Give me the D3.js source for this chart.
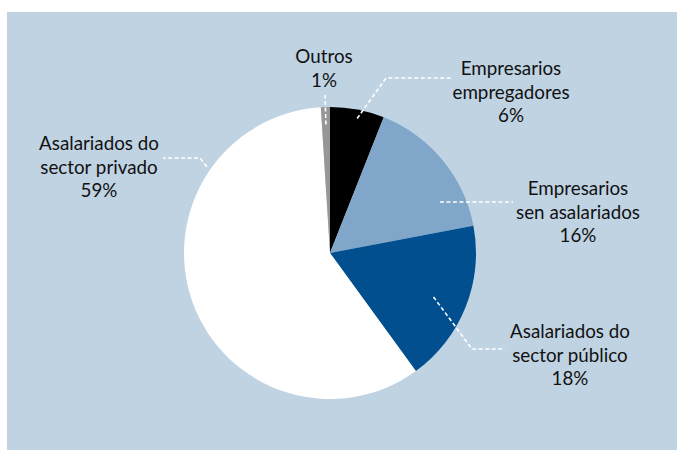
<!DOCTYPE html>
<html>
<head>
<meta charset="utf-8">
<script src="https://cdn.jsdelivr.net/npm/d3@7/dist/d3.min.js"></script>
<style>
  html, body { margin: 0; padding: 0; background: #ffffff; }
  svg { display: block; }
  text { font-family: "Lato", "Noto Sans", sans-serif; fill: #111111; }
</style>
</head>
<body>
<script>
// Employment by professional situation (share of total, %)
const categories = [
  ["Empresarios", "empregadores"],
  ["Empresarios", "sen asalariados"],
  ["Asalariados do", "sector público"],
  ["Asalariados do", "sector privado"],
  ["Outros"]
];
const values = [6, 16, 18, 59, 1];
const colors = ["#000000", "#80a7c9", "#014f8f", "#ffffff", "#979797"];

const W = 677, H = 450;
const cx = 330, cy = 253, R = 146;

const svg = d3.select("body").append("svg")
  .attr("width", W).attr("height", H);

// panel background
svg.append("rect")
  .attr("x", 7).attr("y", 12)
  .attr("width", W - 7).attr("height", H - 12)
  .attr("fill", "#c0d3e3");

const pie = d3.pie().sort(null).value(d => d)(values);
const arc = d3.arc().innerRadius(0).outerRadius(R);

const g = svg.append("g").attr("transform", `translate(${cx},${cy})`);
g.selectAll("path.slice")
  .data(pie)
  .join("path")
  .attr("class", "slice")
  .attr("d", arc)
  .attr("fill", (d, i) => colors[i]);

// label layout: leader start (angle in degrees, fraction of radius), leader bends
// (relative to pie centre), text centre and first baseline (absolute)
const layout = [
  { a: 11.4, r: 0.94, pts: [[56, -175], [122, -175]], tx: 511, ty: 75 },
  { a: 65.1, r: 0.83, pts: [[183, -51]], tx: 578, ty: 195 },
  { a: 113.0, r: 0.77, pts: [[142, 96], [175, 96]], tx: 570, ty: 338 },
  { a: 305.0, r: 1.03, pts: [[-130, -95], [-167, -95]], tx: 99, ty: 150 },
  { a: 358.2, r: 0.88, pts: [[-5, -158]], tx: 324, ty: 63 }
];

const leader = d3.line();
layout.forEach((L, i) => {
  const start = d3.pointRadial(L.a * Math.PI / 180, R * L.r);
  g.append("path")
    .attr("d", leader([start, ...L.pts]))
    .attr("fill", "none")
    .attr("stroke", "#ffffff")
    .attr("stroke-width", 1.6)
    .attr("stroke-dasharray", "4,2.5");

  const lines = categories[i].concat([values[i] + "%"]);
  const t = svg.append("text")
    .attr("text-anchor", "middle")
    .attr("font-size", 18.8);
  lines.forEach((s, k) => {
    t.append("tspan")
      .attr("x", L.tx)
      .attr("y", L.ty + k * 23.5)
      .text(s);
  });
});
</script>
</body>
</html>
